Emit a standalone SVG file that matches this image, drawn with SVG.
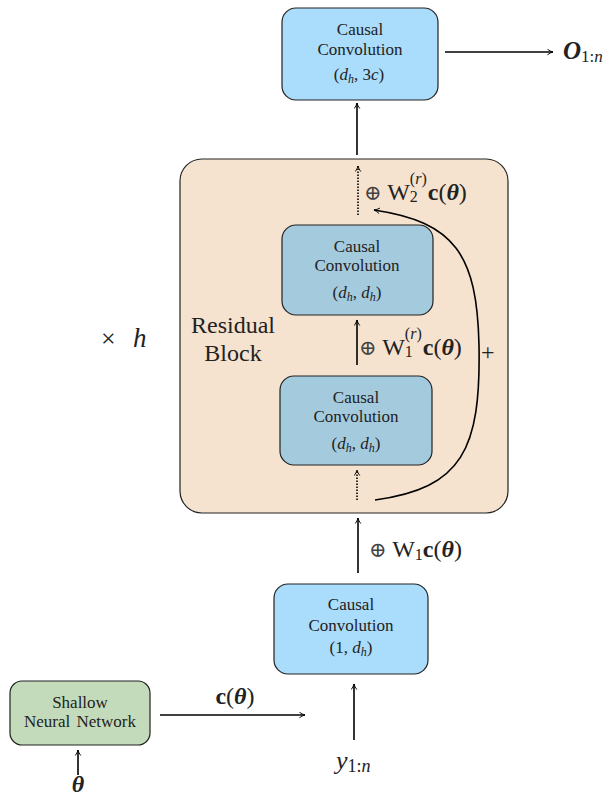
<svg xmlns="http://www.w3.org/2000/svg" width="616" height="798" viewBox="0 0 616 798">
<style>
text{font-family:"Liberation Serif","DejaVu Serif",serif;fill:#222}
.bt{font-size:17px;text-anchor:middle}
.lab{font-size:24px}
.box{stroke:#222;stroke-width:1.2}
.conv{fill:#aadcfb}
.inner{fill:#a4cade}
.line{stroke:#000;stroke-width:1.6;fill:none}
.dot{stroke:#000;stroke-width:1.6;fill:none;stroke-dasharray:1.5 1.5}
.it{font-style:italic}
.b{font-weight:bold}
.bi{font-weight:bold;font-style:italic}
.sub{font-size:12px}
.op{font-size:21px;fill:#444}
</style>
<defs>
<marker id="ah" viewBox="0 0 10 10" refX="9" refY="5" markerWidth="7" markerHeight="7" orient="auto" markerUnits="userSpaceOnUse">
<path d="M1,1 Q5,4 9,5 Q5,6 1,9" fill="none" stroke="#000" stroke-width="1.3"/>
</marker>
</defs>
<g id="residual-block">
<rect x="180" y="159" width="328" height="354" rx="22" fill="#f6e3cf" class="box"/>
<text class="lab" x="233" y="333" text-anchor="middle">Residual</text>
<text class="lab" x="233" y="361" text-anchor="middle">Block</text>
</g>
<g id="times-h"><text x="101" y="347" font-size="26">×<tspan class="it" font-size="27" x="133">h</tspan></text></g>
<g id="conv-top">
<rect x="282" y="8" width="156" height="92" rx="14" class="box conv"/>
<text class="bt" x="360" y="35">Causal</text>
<text class="bt" x="360" y="55">Convolution</text>
<text class="bt" x="359" y="80">(<tspan class="it">d</tspan><tspan class="it sub" dy="3">h</tspan><tspan dy="-3">, 3</tspan><tspan class="it">c</tspan>)</text>
</g>
<g id="conv-inner2">
<rect x="282" y="225" width="151" height="90" rx="14" class="box inner"/>
<text class="bt" x="357" y="252">Causal</text>
<text class="bt" x="357" y="271">Convolution</text>
<text class="bt" x="357" y="298">(<tspan class="it">d</tspan><tspan class="it sub" dy="3">h</tspan><tspan dy="-3">, </tspan><tspan class="it">d</tspan><tspan class="it sub" dy="3">h</tspan><tspan dy="-3">)</tspan></text>
</g>
<g id="conv-inner1">
<rect x="280" y="376" width="152" height="89" rx="14" class="box inner"/>
<text class="bt" x="356" y="403">Causal</text>
<text class="bt" x="356" y="422">Convolution</text>
<text class="bt" x="356" y="449">(<tspan class="it">d</tspan><tspan class="it sub" dy="3">h</tspan><tspan dy="-3">, </tspan><tspan class="it">d</tspan><tspan class="it sub" dy="3">h</tspan><tspan dy="-3">)</tspan></text>
</g>
<g id="conv-bottom">
<rect x="274" y="584" width="154" height="90" rx="14" class="box conv"/>
<text class="bt" x="351" y="610">Causal</text>
<text class="bt" x="351" y="631">Convolution</text>
<text class="bt" x="351" y="653">(1, <tspan class="it">d</tspan><tspan class="it sub" dy="3">h</tspan><tspan dy="-3">)</tspan></text>
</g>
<g id="shallow-nn">
<rect x="10" y="681" width="140" height="64" rx="12" fill="#c3dbba" class="box"/>
<text class="bt" x="80" y="708">Shallow</text>
<text class="bt" x="80" y="727" word-spacing="2">Neural Network</text>
</g>
<g id="connectors">
<line x1="445" y1="52" x2="553" y2="52" class="line" marker-end="url(#ah)"/>
<line x1="357" y1="155" x2="357" y2="103" class="line" marker-end="url(#ah)"/>
<line x1="358" y1="215" x2="358" y2="166" class="dot" marker-end="url(#ah)"/>
<line x1="357" y1="365" x2="357" y2="320" class="line" marker-end="url(#ah)"/>
<line x1="357" y1="500" x2="357" y2="470" class="dot" marker-end="url(#ah)"/>
<path d="M375,500 C462,488 481,450 479,345 C477,255 455,222 374,210" class="line" marker-end="url(#ah)"/>
<line x1="358" y1="573" x2="358" y2="518" class="line" marker-end="url(#ah)"/>
<line x1="354" y1="740" x2="354" y2="684" class="line" marker-end="url(#ah)"/>
<line x1="160" y1="715" x2="305" y2="715" class="line" marker-end="url(#ah)"/>
<line x1="78" y1="775" x2="78" y2="750" class="line" marker-end="url(#ah)"/>
</g>
<g id="labels">
<text x="563" y="59"><tspan class="bi" font-size="25">O</tspan><tspan font-size="17" dy="3">1:</tspan><tspan class="it" font-size="17">n</tspan></text>
<text class="lab" x="364" y="200"><tspan class="op">⊕</tspan> W<tspan font-size="16" dy="2">2</tspan><tspan font-size="16" dx="-8" dy="-18">(</tspan><tspan font-size="16" class="it">r</tspan><tspan font-size="16">)</tspan><tspan class="b" dy="16" dx="1">c</tspan>(<tspan class="bi">θ</tspan>)</text>
<text class="lab" x="359" y="355"><tspan class="op">⊕</tspan> W<tspan font-size="16" dy="2">1</tspan><tspan font-size="16" dx="-8" dy="-18">(</tspan><tspan font-size="16" class="it">r</tspan><tspan font-size="16">)</tspan><tspan class="b" dy="16" dx="1">c</tspan>(<tspan class="bi">θ</tspan>)</text>
<text class="lab" x="481" y="360">+</text>
<text class="lab" x="369" y="557"><tspan class="op">⊕</tspan> W<tspan font-size="16" dy="3">1</tspan><tspan class="b" dy="-3">c</tspan>(<tspan class="bi">θ</tspan>)</text>
<text class="lab" x="235" y="704" text-anchor="middle"><tspan class="b">c</tspan>(<tspan class="bi">θ</tspan>)</text>
<text x="336" y="769"><tspan class="it" font-size="26">y</tspan><tspan font-size="18" dy="3">1:</tspan><tspan class="it" font-size="18">n</tspan></text>
<text x="78" y="792" text-anchor="middle" font-size="24"><tspan class="bi">θ</tspan></text>
</g>
</svg>
